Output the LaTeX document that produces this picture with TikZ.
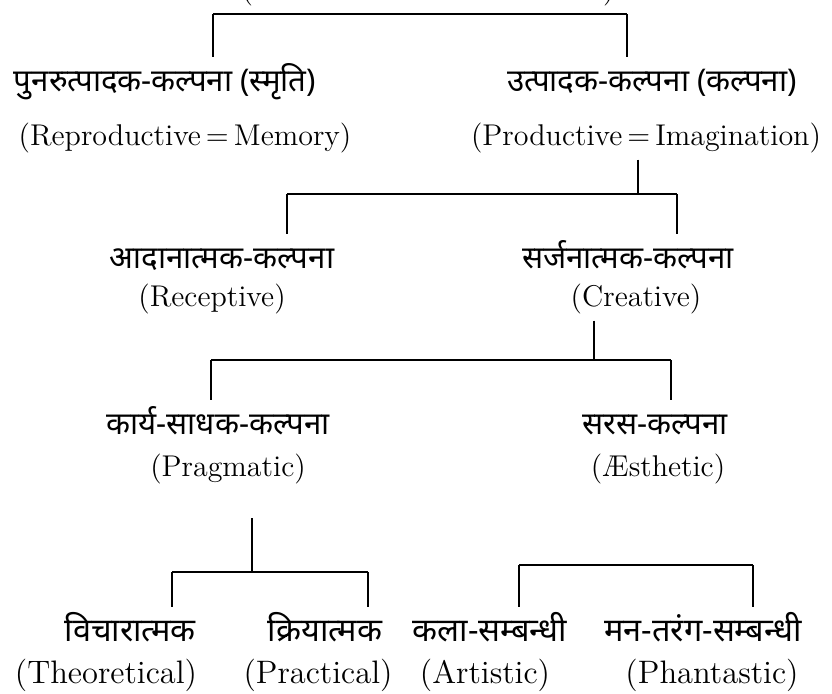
\documentclass[tikz,border=0pt]{standalone}
\usepackage{fontspec}
\newfontfamily\hindi[Script=Devanagari]{Noto Sans}

\begin{document}
\begin{tikzpicture}[
          x=0.4pt, y=-0.4pt,
          hin/.style={font=\hindi\fontsize{12.5}{14}\selectfont, inner sep=0pt,
            text height=9pt, text depth=3.5pt, outer sep=5pt},
          eng/.style={font=\fontsize{12}{14}\selectfont, inner sep=0pt,
            text height=8.5pt, text depth=3pt, outer sep=2.5pt},
          leafH/.style={hin, font=\hindi\fontsize{13}{15}\selectfont},
          leafE/.style={eng, font=\fontsize{13}{15}\selectfont},
          bar/.style={line width=1pt},
          stem/.style={line width=0.8pt}
        ]
        \useasboundingbox (0,0) rectangle (832,693);

        % cut off at the top
        \node[eng, anchor=base] (topE) at (428,-1) {(\hspace{140pt})};

        \node[hin] (repH) at (165,85) {पुनरुत्पादक-कल्पना (स्मृति)};
        \node[eng] (repE) at (185,139) {(Reproductive\,=\,Memory)};
        \node[hin] (proH) at (652,85) {उत्पादक-कल्पना (कल्पना)};
        \node[eng] (proE) at (646,139) {(Productive\,=\,Imagination)};

        \node[hin] (recH) at (222,262) {आदानात्मक-कल्पना};
        \node[eng] (recE) at (212,300) {(Receptive)};
        \node[hin] (creH) at (628,262) {सर्जनात्मक-कल्पना};
        \node[eng] (creE) at (636,300) {(Creative)};

        \node[hin] (praH) at (218,428) {कार्य-साधक-कल्पना};
        \node[eng] (praE) at (228,470) {(Pragmatic)};
        \node[hin] (aesH) at (655,428) {सरस-कल्पना};
        \node[eng] (aesE) at (658,470) {(Æsthetic)};

        \node[leafH] (theH) at (130,635) {विचारात्मक};
        \node[leafE] (theE) at (106,677) {(Theoretical)};
        \node[leafH] (pcaH) at (325,635) {क्रियात्मक};
        \node[leafE] (pcaE) at (318,677) {(Practical)};
        \node[leafH] (artH) at (490,635) {कला-सम्बन्धी};
        \node[leafE] (artE) at (485,677) {(Artistic)};
        \node[leafH] (phaH) at (703,635) {मन-तरंग-सम्बन्धी};
        \node[leafE] (phaE) at (712,677) {(Phantastic)};

        % brackets
        \coordinate (tl) at (213,14);
        \coordinate (tr) at (627,14);
        \draw[bar] (tl) -- (tr);
        \draw[stem] (tl) -- (tl |- repH.north);
        \draw[stem] (tr) -- (tr |- proH.north);

        \coordinate (j2) at (638,194);
        \coordinate (l2) at (287,194);
        \coordinate (r2) at (677,194);
        \draw[stem] (j2 |- proE.south) -- (j2);
        \draw[bar] (l2) -- (r2);
        \draw[stem] (l2) -- (l2 |- recH.north);
        \draw[stem] (r2) -- (r2 |- creH.north);

        \coordinate (j3) at (594,360);
        \coordinate (l3) at (211,360);
        \coordinate (r3) at (671,360);
        \draw[stem] (j3 |- creE.south) -- (j3);
        \draw[bar] (l3) -- (r3);
        \draw[stem] (l3) -- (l3 |- praH.north);
        \draw[stem] (r3) -- (r3 |- aesH.north);

        \coordinate (j4) at (252,572);
        \coordinate (l4) at (172,572);
        \coordinate (r4) at (368,572);
        \draw[stem] ([yshift=-11pt]j4 |- praE.south) -- (j4);
        \draw[bar] (l4) -- (r4);
        \draw[stem] (l4) -- (l4 |- theH.north);
        \draw[stem] (r4) -- (r4 |- pcaH.north);

        \coordinate (l5) at (519,565);
        \coordinate (r5) at (753,565);
        \draw[bar] (l5) -- (r5);
        \draw[stem] (l5) -- (l5 |- artH.north);
        \draw[stem] (r5) -- (r5 |- phaH.north);

        \end{tikzpicture}
\end{document}
